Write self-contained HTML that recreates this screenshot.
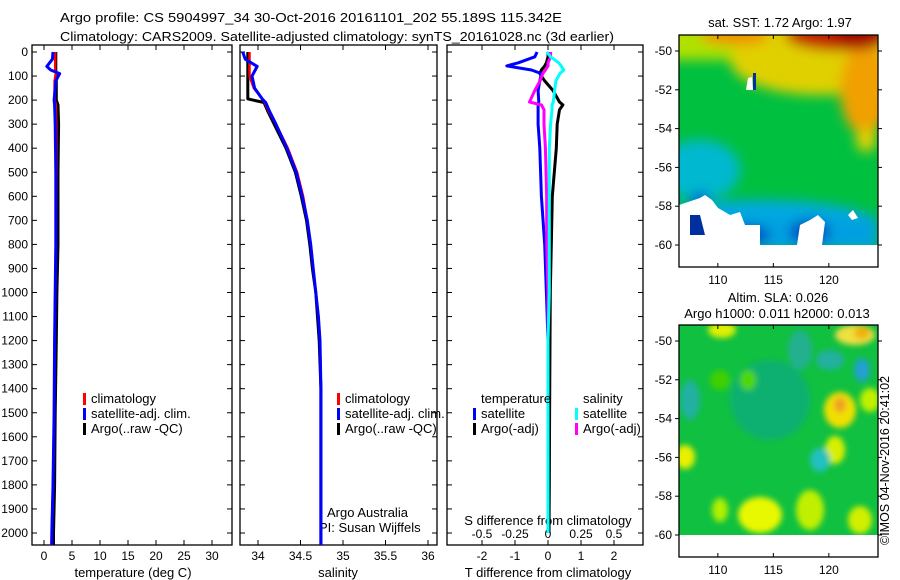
<!DOCTYPE html>
<html><head><meta charset="utf-8">
<style>
body{margin:0;background:#fff;}
svg{display:block;font-family:"Liberation Sans",sans-serif;}
text{font-size:13px;fill:#000;}
text.tk{font-size:12px;}
</style></head>
<body>
<svg id="chart" width="900" height="580" viewBox="0 0 900 580">
<defs>
<filter id="blur4" x="-50%" y="-50%" width="200%" height="200%"><feGaussianBlur stdDeviation="6"/></filter>
<filter id="blur2" x="-50%" y="-50%" width="200%" height="200%"><feGaussianBlur stdDeviation="3"/></filter>
<clipPath id="clipTop"><rect x="679" y="35" width="199" height="210"/></clipPath>
<clipPath id="clipBot"><rect x="679" y="325" width="199" height="210"/></clipPath>
</defs>
<text x="60" y="22" textLength="502" lengthAdjust="spacingAndGlyphs">Argo profile: CS 5904997_34 30-Oct-2016 20161101_202 55.189S 115.342E</text>
<text x="60" y="41" textLength="554" lengthAdjust="spacingAndGlyphs">Climatology: CARS2009. Satellite-adjusted climatology: synTS_20161028.nc (3d earlier)</text>
<g id="panels"></g>
<g id="maps"></g>
<text transform="translate(889,545) rotate(-90)" textLength="169" lengthAdjust="spacingAndGlyphs">©IMOS 04-Nov-2016 20:41:02</text>
</svg>
<script>
// ---- data ----
const depthTicks = [0,100,200,300,400,500,600,700,800,900,1000,1100,1200,1300,1400,1500,1600,1700,1800,1900,2000];
const tempTicks = [0,5,10,15,20,25,30];
const salTicks = [34,34.5,35,35.5,36];
const salTickLabels = ['34','34.5','35','35.5','36'];
const tdiffTicks = [-2,-1,0,1,2];
const sdiffTicks = [-0.5,-0.25,0,0.25,0.5];

const tDepth = [0,30,60,75,90,120,200,220,300,500,800,1000,1200,1500,1800,2000,2050];
const tClim =  [2.0,2.0,2.0,2.0,2.1,1.9,1.9,2.1,2.2,2.2,2.1,2.0,1.9,1.8,1.6,1.4,1.3];
const tSat =   [1.6,1.5,0.5,1.2,2.8,2.1,1.8,1.9,2.0,2.1,2.1,2.0,1.9,1.8,1.6,1.4,1.4];
const tArgo =  [2.1,2.1,2.1,2.1,2.2,2.2,2.2,2.5,2.6,2.5,2.5,2.3,2.2,2.0,1.9,1.7,1.7];

const sDepth = [0,30,60,100,150,195,210,250,300,400,500,600,700,800,900,1000,1100,1200,1400,1700,2000,2050];
const sClim =  [33.90,33.90,33.90,33.90,33.95,34.05,34.08,34.13,34.21,34.35,34.46,34.53,34.58,34.62,34.65,34.68,34.71,34.73,34.74,34.74,34.74,34.74];
const sSat =   [33.82,33.85,33.99,33.93,33.96,34.05,34.09,34.14,34.21,34.34,34.45,34.52,34.58,34.62,34.65,34.68,34.71,34.73,34.74,34.74,34.74,34.74];
const sArgo =  [33.88,33.88,33.88,33.88,33.88,33.88,34.07,34.12,34.19,34.33,34.44,34.51,34.57,34.61,34.64,34.68,34.70,34.72,34.74,34.74,34.74,34.74];

const dDepth =     [0,20,45,58,75,90,120,160,208,220,240,300,400,600,800,1000,1200,1500,1800,2000];
const dTSat =      [-0.33,-0.4,-0.9,-1.25,-0.5,-0.2,-0.25,-0.3,-0.28,-0.3,-0.3,-0.3,-0.25,-0.2,-0.1,-0.05,0,0,0,0];
const dTArgo =     [0,0,-0.05,-0.1,-0.2,-0.25,-0.1,0.15,0.35,0.45,0.35,0.28,0.25,0.13,0.1,0.07,0.06,0.05,0.04,0.03];
const dSSat =      [-0.01,0.02,0.08,0.1,0.12,0.09,0.06,0.05,0.04,0.03,0.03,0.02,0.01,0.01,0.01,0.01,0.0,0.0,0.0,0.0];
const dSArgo =     [0.02,0.02,0.0,0.0,-0.02,-0.04,-0.06,-0.1,-0.14,-0.05,-0.03,-0.03,-0.02,-0.01,-0.01,0,0,0,0,0];

// ---- axes ----
const y0 = 52, yPer = 0.2405;
const yD = d => y0 + d*yPer;
const xT = v => 44 + v*5.6;
const xS = v => 258 + (v-34)*85;
const xTD = v => 548 + v*33;
const xSD = v => 548 + v*132;
const NS = 'http://www.w3.org/2000/svg';
const panels = document.getElementById('panels');
function mk(tag, attrs, parent){const e=document.createElementNS(NS,tag);for(const k in attrs)e.setAttribute(k,attrs[k]);(parent||panels).appendChild(e);return e;}
function txt(x,y,s,anchor,parent){const t=mk('text',{x:x,y:y,'text-anchor':anchor||'start'},parent);t.textContent=s;return t;}
function tk(x,y,s,anchor,parent){const t=txt(x,y,s,anchor,parent);t.setAttribute('class','tk');return t;}

const boxes = [[32,232],[240,437],[447,643]];
const boxTop=45, boxBot=545;
boxes.forEach((b,i)=>{
  const r=mk('rect',{x:b[0],y:boxTop,width:b[1]-b[0],height:boxBot-boxTop,fill:'none',stroke:'#000','stroke-width':1.3});
  
  
  depthTicks.forEach(d=>{mk('line',{x1:b[0],x2:b[0]+5,y1:yD(d),y2:yD(d),stroke:'#000'});mk('line',{x1:b[1],x2:b[1]-5,y1:yD(d),y2:yD(d),stroke:'#000'});});
});
depthTicks.forEach(d=>{const t=tk(28,yD(d)+4,String(d),'end');});
function xticks(arr,fx,labels,ly){arr.forEach((v,i)=>{const x=fx(v);mk('line',{x1:x,x2:x,y1:boxTop,y2:boxTop+5,stroke:'#000'});mk('line',{x1:x,x2:x,y1:boxBot,y2:boxBot-5,stroke:'#000'});const t=tk(x,ly,labels?labels[i]:String(v),'middle');});}
xticks(tempTicks,xT,null,560);
xticks(salTicks,xS,salTickLabels,560);
xticks(tdiffTicks,xTD,null,560);
sdiffTicks.forEach(v=>{const t=tk(xSD(v),538,String(v),'middle');});
let t;
t=txt(133,577,'temperature (deg C)','middle');
t=txt(338,577,'salinity','middle');
t=txt(548,577,'T difference from climatology','middle');
t=txt(548,525,'S difference from climatology','middle');
t=txt(327,517,'Argo Australia');
t=txt(319,532,'PI: Susan Wijffels');

function line(depths,vals,fx,color,w,name){
  const pts=depths.map((d,i)=>fx(vals[i]).toFixed(1)+','+yD(d).toFixed(1)).join(' ');
  const p=mk('polyline',{points:pts,fill:'none',stroke:color,'stroke-width':w,'stroke-linejoin':'round'});
  
  
}
line(tDepth,tArgo,xT,'#000',3,'temp-argo-line');
line(tDepth,tClim,xT,'#f00',2.5,'temp-climatology-line');
line(tDepth,tSat,xT,'#00f',3,'temp-satellite-line');
line(sDepth,sArgo,xS,'#000',3,'sal-argo-line');
line(sDepth,sClim,xS,'#f00',2.5,'sal-climatology-line');
line(sDepth,sSat,xS,'#00f',3,'sal-satellite-line');
line(dDepth,dTArgo,xTD,'#000',3,'tdiff-argo-line');
line(dDepth,dTSat,xTD,'#00f',3,'tdiff-satellite-line');
line(dDepth,dSArgo,xSD,'#f0f',3,'sdiff-argo-line');
line(dDepth,dSSat,xSD,'#0ff',3,'sdiff-satellite-line');

function legend(x,y,items,name){items.forEach((it,i)=>{const yy=y+i*15;mk('rect',{x:x,y:yy-10,width:3,height:12,fill:it[1]});const tt=txt(x+8,yy,it[0]);});}
legend(83,403,[['climatology','#f00'],['satellite-adj. clim.','#00f'],['Argo(..raw -QC)','#000']],'temp-legend-entry');
legend(337,403,[['climatology','#f00'],['satellite-adj. clim.','#00f'],['Argo(..raw -QC)','#000']],'sal-legend-entry');
t=txt(481,403,'temperature');
t=txt(583,403,'salinity');
legend(473,418,[['satellite','#00f'],['Argo(-adj)','#000']],'tdiff-legend-entry');
legend(575,418,[['satellite','#0ff'],['Argo(-adj)','#f0f']],'sdiff-legend-entry');

// ---- maps ----
const maps=document.getElementById('maps');
const lonTicks=[110,115,120];
const latTicks=[-50,-52,-54,-56,-58,-60];
function mapFrame(top,name){
  const lonX=v=>679+(v-106.5)*11.1;
  const latY=v=>top+16+(-50-v)*19.4;
  const r=mk('rect',{x:679,y:top,width:199,height:232,fill:'none',stroke:'#000','stroke-width':1.3},maps);
  
  
  lonTicks.forEach(v=>{const x=lonX(v);mk('line',{x1:x,x2:x,y1:top,y2:top+4,stroke:'#000'},maps);mk('line',{x1:x,x2:x,y1:top+232,y2:top+228,stroke:'#000'},maps);const tt=tk(x,top+249,String(v),'middle',maps);});
  latTicks.forEach(v=>{const y=latY(v);mk('line',{x1:878,x2:882,y1:y,y2:y,stroke:'#000'},maps);mk('line',{x1:679,x2:675,y1:y,y2:y,stroke:'#000'},maps);const tt=tk(672,y+4,String(v),'end',maps);});
}
// top SST map
(function(){
  const g=mk('g',{'clip-path':'url(#clipTop)'},maps);
  mk('rect',{x:679,y:35,width:199,height:210,fill:'#00c040'},g);
  const fx=mk('g',{filter:'url(#blur4)'},g);
  mk('rect',{x:660,y:20,width:240,height:22,fill:'#e8e000'},fx);
  mk('rect',{x:660,y:20,width:90,height:40,fill:'#b0e000'},fx);
  mk('ellipse',{cx:820,cy:60,rx:90,ry:35,fill:'#e0d000'},fx);
  mk('ellipse',{cx:865,cy:90,rx:25,ry:45,fill:'#f0a000'},fx);
  mk('ellipse',{cx:735,cy:35,rx:35,ry:10,fill:'#f09000'},fx);
  mk('ellipse',{cx:840,cy:35,rx:55,ry:16,fill:'#c02000'},fx);
  mk('ellipse',{cx:860,cy:38,rx:25,ry:10,fill:'#a00000'},fx);
  mk('ellipse',{cx:866,cy:140,rx:10,ry:12,fill:'#e8d000'},fx);
  mk('ellipse',{cx:700,cy:170,rx:40,ry:30,fill:'#00b8d0'},fx);
  mk('ellipse',{cx:760,cy:225,rx:120,ry:25,fill:'#00a8e0'},fx);
  mk('rect',{x:679,y:220,width:199,height:30,fill:'#00a0e0'},fx);
  mk('ellipse',{cx:740,cy:235,rx:30,ry:10,fill:'#0040c0'},fx);
  mk('ellipse',{cx:810,cy:232,rx:20,ry:12,fill:'#0040c0'},fx);
  mk('ellipse',{cx:700,cy:200,rx:10,ry:8,fill:'#0060d0'},fx);
  const wh='#fff';
  mk('polygon',{points:'679,205 700,198 705,195 712,200 718,208 725,212 730,215 740,212 745,225 760,225 760,245 679,245',fill:wh},g);
  mk('polygon',{points:'690,215 700,215 705,235 690,235',fill:'#0030a0'},g);
  mk('polygon',{points:'797,245 800,225 810,220 818,215 825,222 822,245',fill:wh},g);
  mk('polygon',{points:'848,215 853,210 858,218 852,220',fill:wh},g);
  mk('polygon',{points:'748,78 752,77 753,90 746,90',fill:wh},g);
  mk('rect',{x:753,y:73,width:3,height:17,fill:'#0030a0'},g);
})();
mapFrame(35,'sst-map-frame');
t=txt(780,27,'sat. SST: 1.72 Argo: 1.97','middle',maps);
// bottom SLA map
(function(){
  const g=mk('g',{'clip-path':'url(#clipBot)'},maps);
  mk('rect',{x:679,y:325,width:199,height:210,fill:'#10c040'},g);
  const fx=mk('g',{filter:'url(#blur2)'},g);
  const blobs=[[722,330,14,8,'#e0f000'],[855,335,20,10,'#f0e040'],[862,333,8,6,'#f0b000'],[840,410,16,18,'#f0e000'],[840,405,6,8,'#f0a020'],[685,457,10,12,'#e8f000'],[760,515,22,18,'#e8f800'],[720,510,8,12,'#b0f000'],[835,450,10,14,'#d8f000'],[870,400,10,12,'#c0f000'],[810,510,14,20,'#c0f000'],[860,520,12,14,'#d0f000'],
    [770,400,40,40,'#10b070'],[830,360,14,10,'#20b0a0'],[862,370,8,12,'#20a0d0'],[820,460,10,12,'#20c0c0'],[690,400,10,20,'#20b0a0'],[800,350,12,20,'#20b090'],[720,380,10,10,'#40d000'],[748,380,8,10,'#50d800']];
  blobs.forEach(b=>mk('ellipse',{cx:b[0],cy:b[1],rx:b[2],ry:b[3],fill:b[4]},fx));
})();
mapFrame(325,'sla-map-frame');
t=txt(778,302,'Altim. SLA: 0.026','middle',maps);
t=txt(777,318,'Argo h1000: 0.011 h2000: 0.013','middle',maps);
</script>
</body></html>
